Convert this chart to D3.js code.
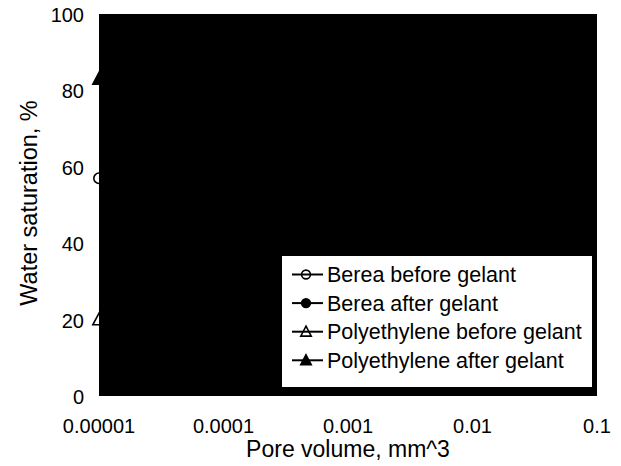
<!DOCTYPE html>
<html>
<head>
<meta charset="utf-8">
<script src="https://cdn.jsdelivr.net/npm/d3@7"></script>
<style>
  body { margin: 0; background: #fff; }
  text { font-family: Arial, "Liberation Sans", sans-serif; fill: #000; }
</style>
</head>
<body>
<script>
// data
var xTicks = [0.00001, 0.0001, 0.001, 0.01, 0.1];
var xTickLabels = ["0.00001", "0.0001", "0.001", "0.01", "0.1"];
var yTicks = [0, 20, 40, 60, 80, 100];

var seriesNames = ["Berea before gelant", "Berea after gelant",
                   "Polyethylene before gelant", "Polyethylene after gelant"];
// only the first points are visible, the rest is hidden under the black plot area
var bereaBefore = [[0.00001, 57]];
var bereaAfter = [];
var polyBefore = [[0.00001, 20]];
var polyAfter = [[0.00001, 83]];

var width = 621, height = 466;
var margin = {left: 99, right: 24, top: 14, bottom: 70};

var svg = d3.select("body").append("svg")
    .attr("width", width)
    .attr("height", height);

var x = d3.scaleLog()
    .domain([0.00001, 0.1])
    .range([margin.left, width - margin.right]);

var y = d3.scaleLinear()
    .domain([0, 100])
    .range([height - margin.bottom, margin.top]);

var series = [
    {name: seriesNames[0], data: bereaBefore, shape: "circle", filled: false},
    {name: seriesNames[1], data: bereaAfter, shape: "circle", filled: true},
    {name: seriesNames[2], data: polyBefore, shape: "triangle", filled: false},
    {name: seriesNames[3], data: polyAfter, shape: "triangle", filled: true}
];

function drawMarker(g, shape, filled, cx, cy, s) {
    if (shape == "circle") {
        g.append("circle")
            .attr("cx", cx).attr("cy", cy).attr("r", s * 0.8)
            .attr("fill", filled ? "#000" : "none")
            .attr("stroke", "#000").attr("stroke-width", 1.6);
    } else {
        g.append("path")
            .attr("d", "M" + cx + "," + (cy - s) + "L" + (cx + s * 0.95) + "," + (cy + s * 0.8) +
                       "L" + (cx - s * 0.95) + "," + (cy + s * 0.8) + "Z")
            .attr("fill", filled ? "#000" : "none")
            .attr("stroke", "#000").attr("stroke-width", 1.6);
    }
}

// markers (mostly covered by the plot area afterwards)
var gSeries = svg.append("g");
series.forEach(function(s){
    if (s.data.length > 1) {
        gSeries.append("path")
            .datum(s.data)
            .attr("fill", "none")
            .attr("stroke", "#000")
            .attr("d", d3.line().x(function(d){ return x(d[0]); }).y(function(d){ return y(d[1]); }));
    }
    s.data.forEach(function(d){
        drawMarker(gSeries, s.shape, s.filled, x(d[0]), y(d[1]), 6.5);
    });
});

// plot area
svg.append("rect")
    .attr("x", x(0.00001))
    .attr("y", y(100))
    .attr("width", x(0.1) - x(0.00001))
    .attr("height", y(0) - y(100))
    .attr("fill", "#000");

// y tick labels
svg.append("g").selectAll("text")
    .data(yTicks)
    .enter().append("text")
    .attr("x", 84)
    .attr("y", function(d){ return y(d) + 8; })
    .attr("text-anchor", "end")
    .style("font-size", "20px")
    .text(function(d){ return d; });

// x tick labels
svg.append("g").selectAll("text")
    .data(xTicks)
    .enter().append("text")
    .attr("x", function(d){ return x(d); })
    .attr("y", 433)
    .attr("text-anchor", "middle")
    .style("font-size", "20px")
    .text(function(d, i){ return xTickLabels[i]; });

// axis titles
svg.append("text")
    .attr("x", (x(0.00001) + x(0.1)) / 2)
    .attr("y", 457)
    .attr("text-anchor", "middle")
    .style("font-size", "23px")
    .text("Pore volume, mm^3");

svg.append("text")
    .attr("transform", "translate(37," + ((y(0) + y(100)) / 2 - 2) + ") rotate(-90)")
    .attr("text-anchor", "middle")
    .style("font-size", "23.5px")
    .text("Water saturation, %");

// legend
var legend = svg.append("g");
legend.append("rect")
    .attr("x", 282).attr("y", 256)
    .attr("width", 310).attr("height", 131)
    .attr("fill", "#fff");

series.forEach(function(s, i){
    var ly = 274.5 + i * 28.6;
    legend.append("line")
        .attr("x1", 292).attr("x2", 323)
        .attr("y1", ly).attr("y2", ly)
        .attr("stroke", "#000").attr("stroke-width", 2);
    drawMarker(legend, s.shape, s.filled, 306, ly, 5.5);
    legend.append("text")
        .attr("x", 327)
        .attr("y", ly + 7.5)
        .style("font-size", "21.5px")
        .text(s.name);
});
</script>
</body>
</html>
